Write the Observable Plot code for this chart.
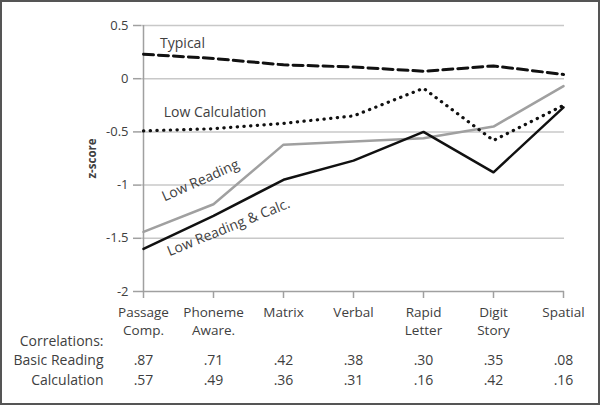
<!DOCTYPE html>
<html>
<head>
<meta charset="utf-8">
<script src="https://cdn.jsdelivr.net/npm/d3@7"></script>
<script src="https://cdn.jsdelivr.net/npm/@observablehq/plot@0.6"></script>
<style>
  html, body { margin: 0; padding: 0; background: #fff; }
  #chart svg { display: block; outline: 2px solid #555; outline-offset: -2px; }
</style>
</head>
<body>
<div id="chart"></div>
<script>
const categories = ["Passage Comp.", "Phoneme Aware.", "Matrix", "Verbal", "Rapid Letter", "Digit Story", "Spatial"];
const tickLabels = ["Passage\nComp.", "Phoneme\nAware.", "Matrix", "Verbal", "Rapid\nLetter", "Digit\nStory", "Spatial"];
const typical = [0.23, 0.19, 0.13, 0.11, 0.07, 0.12, 0.04];
const lowCalculation = [-0.49, -0.47, -0.42, -0.35, -0.09, -0.58, -0.25];
const lowReading = [-1.44, -1.18, -0.62, -0.59, -0.56, -0.45, -0.07];
const lowReadingCalc = [-1.60, -1.29, -0.95, -0.77, -0.50, -0.88, -0.27];
const corrBasicReading = [".87", ".71", ".42", ".38", ".30", ".35", ".08"];
const corrCalculation = [".57", ".49", ".36", ".31", ".16", ".42", ".16"];
const yTicks = [-2, -1.5, -1, -0.5, 0, 0.5];
const rowLabels = ["Correlations:", "Basic Reading", "Calculation"];
const seriesLabels = ["Typical", "Low Calculation", "Low Reading", "Low Reading & Calc."];

const toRows = (vals) => categories.map((c, i) => ({cat: c, v: vals[i]}));
const catRows = categories.map((c, i) => ({cat: c, label: tickLabels[i], br: corrBasicReading[i], ca: corrCalculation[i]}));

const font = "Open Sans, sans-serif";
const textColor = "#404040";
const lbl = {textAnchor: "middle", lineAnchor: "middle", fontSize: 14, fill: textColor};

const chart = Plot.plot({
  width: 600,
  height: 405,
  marginLeft: 141,
  marginRight: 36,
  marginTop: 25,
  marginBottom: 114,
  style: {fontFamily: font, fontSize: "13px", color: textColor, background: "#fff"},
  x: {type: "point", domain: categories, padding: 0},
  y: {domain: [-2, 0.5]},
  marks: [
    Plot.gridY(yTicks.filter(d => d > -2), {stroke: "#c8c8c8", strokeOpacity: 1, strokeWidth: 1.5}),
    Plot.ruleX([categories[0]], {stroke: "#a0a0a0", strokeWidth: 1.5}),
    Plot.ruleY([-2], {stroke: "#a0a0a0", strokeWidth: 1.5}),
    Plot.axisY({ticks: yTicks, tickFormat: d => String(d), tickSize: 8, tickPadding: 5, stroke: "#a0a0a0", strokeWidth: 1.5, fill: textColor, fontSize: 13, label: null}),
    Plot.axisX({tickFormat: () => "", tickSize: 7, stroke: "#a0a0a0", strokeWidth: 1.5, label: null}),
    Plot.text(catRows, {x: "cat", text: "label", frameAnchor: "bottom", textAnchor: "middle", lineAnchor: "top", dy: 12.5, lineHeight: 1.35, fontSize: 13.5, fill: textColor}),
    Plot.text(["z-score"], {frameAnchor: "left", dx: -49, dy: 0, rotate: -90, textAnchor: "middle", lineAnchor: "middle", fontWeight: "bold", fontSize: 11.5, fill: textColor}),
    Plot.line(toRows(lowReading), {x: "cat", y: "v", stroke: "#a0a0a0", strokeWidth: 2.5}),
    Plot.line(toRows(lowReadingCalc), {x: "cat", y: "v", stroke: "#111", strokeWidth: 2.5}),
    Plot.line(toRows(lowCalculation), {x: "cat", y: "v", stroke: "#111", strokeWidth: 3.2, strokeDasharray: "0.3,6.4", strokeLinecap: "round"}),
    Plot.line(toRows(typical), {x: "cat", y: "v", stroke: "#111", strokeWidth: 3, strokeDasharray: "10,5"}),
    Plot.text([seriesLabels[0]], {...lbl, frameAnchor: "top-left", dx: 41, dy: 18}),
    Plot.text([seriesLabels[1]], {...lbl, frameAnchor: "top-left", dx: 73.5, dy: 87}),
    Plot.text([seriesLabels[2]], {...lbl, frameAnchor: "top-left", dx: 59, dy: 155, rotate: -24}),
    Plot.text([seriesLabels[3]], {...lbl, frameAnchor: "top-left", dx: 87, dy: 202, rotate: -22}),
    Plot.text([rowLabels[0]], {...lbl, frameAnchor: "bottom-left", dx: -38, dy: 50, textAnchor: "end"}),
    Plot.text([rowLabels[1]], {...lbl, frameAnchor: "bottom-left", dx: -38, dy: 69, textAnchor: "end"}),
    Plot.text([rowLabels[2]], {...lbl, frameAnchor: "bottom-left", dx: -38, dy: 89, textAnchor: "end"}),
    Plot.text(catRows, {...lbl, x: "cat", text: "br", frameAnchor: "bottom", dy: 69}),
    Plot.text(catRows, {...lbl, x: "cat", text: "ca", frameAnchor: "bottom", dy: 89})
  ]
});
document.getElementById("chart").append(chart);
</script>
</body>
</html>
